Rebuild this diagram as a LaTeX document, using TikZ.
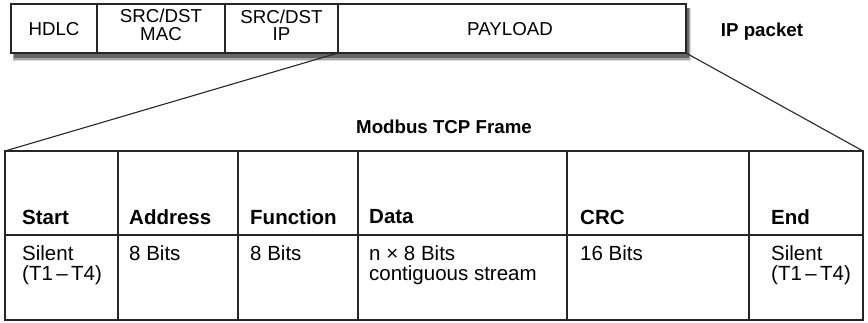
\documentclass[tikz,border=0pt]{standalone}
\usepackage{fontspec}
\setmainfont{Liberation Sans}
\begin{document}
\begin{tikzpicture}[x=1pt,y=-1pt,
  box/.style={draw=black!85, line width=1.4pt, fill=white, inner sep=0pt, outer sep=0pt},
  toptxt/.style={font=\fontsize{18.7}{17.5}\selectfont, align=center},
  head/.style={font=\fontsize{20.5}{20}\selectfont\bfseries, anchor=west, inner sep=0pt},
  body/.style={font=\fontsize{20.5}{20}\selectfont, anchor=north west, align=left, inner sep=0pt},
  title/.style={font=\fontsize{18.7}{20}\selectfont\bfseries, inner sep=0pt},
  link/.style={line width=1.1pt, black!85},
  shadowband/.style={draw=none}]
\useasboundingbox (0,0) rectangle (868,322);
% shadow of IP packet
\fill[shadowband, black!15] (13,8) rectangle (691,61);
\fill[shadowband, black!35] (13,8) rectangle (690,59.5);
\fill[shadowband, black!60] (14,8) rectangle (689,58);
% IP packet cells
\node[box, minimum width=86pt, minimum height=49pt] (hdlc) at (54,28.5) {};
\node[box, minimum width=128pt, minimum height=49pt] (mac) at (161,28.5) {};
\node[box, minimum width=113pt, minimum height=49pt] (ip) at (281.5,28.5) {};
\node[box, minimum width=348pt, minimum height=49pt] (payload) at (512,28.5) {};
\node[toptxt] (thdlc) at (54,29) {HDLC};
\node[toptxt] (tmac) at (161,25) {SRC/DST\\MAC};
\node[toptxt] (tip) at (281.5,25) {SRC/DST\\IP};
\node[toptxt] (tpay) at (510,29) {PAYLOAD};
\node[title] (iplabel) at (762,32) {IP packet};
% Modbus title
\node[title] (mtitle) at (444,127) {Modbus TCP Frame};
% table header row
\node[box, minimum width=113pt, minimum height=84pt] (h1) at (61.5,193) {};
\node[box, minimum width=120pt, minimum height=84pt] (h2) at (178,193) {};
\node[box, minimum width=120pt, minimum height=84pt] (h3) at (298,193) {};
\node[box, minimum width=209pt, minimum height=84pt] (h4) at (462.5,193) {};
\node[box, minimum width=182pt, minimum height=84pt] (h5) at (658,193) {};
\node[box, minimum width=114pt, minimum height=84pt] (h6) at (806,193) {};
% table body row
\node[box, minimum width=113pt, minimum height=85pt] (b1) at (61.5,277.5) {};
\node[box, minimum width=120pt, minimum height=85pt] (b2) at (178,277.5) {};
\node[box, minimum width=120pt, minimum height=85pt] (b3) at (298,277.5) {};
\node[box, minimum width=209pt, minimum height=85pt] (b4) at (462.5,277.5) {};
\node[box, minimum width=182pt, minimum height=85pt] (b5) at (658,277.5) {};
\node[box, minimum width=114pt, minimum height=85pt] (b6) at (806,277.5) {};
% header texts
\node[head] (th1) at (22,217) {Start};
\node[head] (th2) at (129,217) {Address};
\node[head] (th3) at (250,217) {Function};
\node[head] (th4) at (369,217) {Data};
\node[head] (th5) at (580,217) {CRC};
\node[head] (th6) at (771,217) {End};
% body texts
\node[body] (tb1) at (22,245) {Silent\\(T1\,–\,T4)};
\node[body] (tb2) at (129,245) {8 Bits};
\node[body] (tb3) at (250,245) {8 Bits};
\node[body] (tb4) at (369,245) {n × 8 Bits\\contiguous stream};
\node[body] (tb5) at (580,245) {16 Bits};
\node[body] (tb6) at (771,245) {Silent\\(T1\,–\,T4)};
% expansion lines
\draw[link] (payload.south west) -- (h1.north west);
\draw[link] (payload.south east) -- (h6.north east);
\end{tikzpicture}
\end{document}
